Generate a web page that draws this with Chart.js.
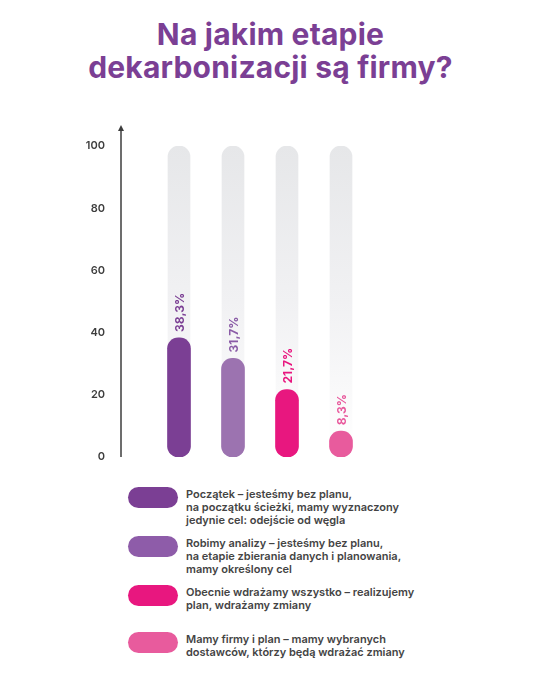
<!DOCTYPE html>
<html lang="pl">
<head>
<meta charset="UTF-8">
<title>Na jakim etapie dekarbonizacji są firmy?</title>
<script src="https://cdn.jsdelivr.net/npm/chart.js@4.4.1/dist/chart.umd.min.js"></script>
<style>
    html, body { margin: 0; padding: 0; background: #fff; }
    body { width: 541px; height: 691px; position: relative; overflow: hidden; font-family: Inter, "Noto Sans", sans-serif; }
    h1 {
        position: absolute; top: 18px; left: 0; width: 541px; margin: 0;
        text-align: center; font-size: 30px; line-height: 33px; font-weight: 700;
        color: #7B3F94; letter-spacing: 0.2px;
    }
    #chart { position: absolute; top: 100px; left: 0; }
    .legend-item { position: absolute; left: 128px; display: flex; align-items: flex-start; }
    .swatch { width: 50px; height: 21px; border-radius: 11px; margin-top: -1px; flex: none; }
    .legend-text { margin-left: 8px; font-size: 11px; line-height: 13px; font-weight: 600; color: #444; }
</style>
</head>
<body>
<h1>Na jakim etapie<br>dekarbonizacji są firmy?</h1>
<canvas id="chart" width="541" height="380" style="width:541px;height:380px"></canvas>
<div id="legend"></div>

<script>
    // Data
    const categories = [
        ['Początek – jesteśmy bez planu,', 'na początku ścieżki, mamy wyznaczony', 'jedynie cel: odejście od węgla'],
        ['Robimy analizy – jesteśmy bez planu,', 'na etapie zbierania danych i planowania,', 'mamy określony cel'],
        ['Obecnie wdrażamy wszystko – realizujemy', 'plan, wdrażamy zmiany'],
        ['Mamy firmy i plan – mamy wybranych', 'dostawców, którzy będą wdrażać zmiany']
    ];
    const values = [38.3, 31.7, 21.7, 8.3];
    const trackValues = [100, 100, 100, 100];
    const valueLabels = ['38,3%', '31,7%', '21,7%', '8,3%'];
    const yTicks = [0, 20, 40, 60, 80, 100];

    const barColors = ['#7B3F94', '#9C73B0', '#E8177F', '#E85B9D'];
    const labelColors = ['#7B3F94', '#8A5BA6', '#E8177F', '#E8589C'];
    const legendColors = ['#7B3F94', '#8E5CA9', '#E8177F', '#E85B9D'];
    const legendTops = [488, 537, 586, 633];

    // Legend (HTML)
    const legendEl = document.getElementById('legend');
    categories.forEach((lines, i) => {
        const item = document.createElement('div');
        item.className = 'legend-item';
        item.style.top = legendTops[i] + 'px';
        const sw = document.createElement('div');
        sw.className = 'swatch';
        sw.style.background = legendColors[i];
        const txt = document.createElement('div');
        txt.className = 'legend-text';
        txt.innerHTML = lines.join('<br>');
        item.appendChild(sw);
        item.appendChild(txt);
        legendEl.appendChild(item);
    });

    // grey track gradient, fades toward the bottom
    function trackGradient(context) {
        const area = context.chart.chartArea;
        if (!area) return '#eee';
        const g = context.chart.ctx.createLinearGradient(0, area.top, 0, area.bottom);
        g.addColorStop(0, '#E6E7E9');
        g.addColorStop(0.5, '#F1F1F3');
        g.addColorStop(1, '#FFFFFF');
        return g;
    }

    // arrow y axis + tick labels, drawn left of the bars
    const axisArrow = {
        id: 'axisArrow',
        afterDraw(chart) {
            const { ctx, chartArea } = chart;
            const y = chart.scales.y;
            const x = chartArea.left - 31;
            const yBottom = y.getPixelForValue(0);
            const yTop = chartArea.top - 21;
            ctx.save();
            ctx.strokeStyle = '#3d3d3d';
            ctx.fillStyle = '#3d3d3d';
            ctx.lineWidth = 1.5;
            ctx.beginPath();
            ctx.moveTo(x, yBottom);
            ctx.lineTo(x, yTop + 4);
            ctx.stroke();
            ctx.beginPath();
            ctx.moveTo(x, yTop);
            ctx.lineTo(x - 3, yTop + 6);
            ctx.lineTo(x + 3, yTop + 6);
            ctx.closePath();
            ctx.fill();

            ctx.font = '600 11px Inter, "Noto Sans", sans-serif';
            ctx.textAlign = 'right';
            ctx.textBaseline = 'middle';
            yTicks.forEach(v => {
                ctx.fillText(String(v), x - 16, y.getPixelForValue(v));
            });
            ctx.restore();
        }
    };

    // rotated value labels above the bars
    const valueLabelPlugin = {
        id: 'valueLabels',
        afterDatasetsDraw(chart) {
            const { ctx } = chart;
            const meta = chart.getDatasetMeta(1);
            ctx.save();
            ctx.font = '700 12px Inter, "Noto Sans", sans-serif';
            ctx.textAlign = 'left';
            ctx.textBaseline = 'middle';
            meta.data.forEach((bar, i) => {
                ctx.save();
                ctx.translate(bar.x + 1, bar.y - 6);
                ctx.rotate(-Math.PI / 2);
                ctx.fillStyle = labelColors[i];
                ctx.fillText(valueLabels[i], 0, 0);
                ctx.restore();
            });
            ctx.restore();
        }
    };

    new Chart(document.getElementById('chart'), {
        type: 'bar',
        data: {
            labels: categories.map((c, i) => 'k' + i),
            datasets: [
                {
                    data: trackValues,
                    backgroundColor: trackGradient,
                    borderRadius: 11,
                    borderSkipped: false,
                    barThickness: 22,
                    grouped: false,
                    order: 2
                },
                {
                    data: values,
                    backgroundColor: barColors,
                    borderRadius: 11,
                    borderSkipped: false,
                    barThickness: 23,
                    grouped: false,
                    order: 1
                }
            ]
        },
        options: {
            responsive: false,
            animation: false,
            layout: { padding: { top: 46, right: 173, bottom: 23, left: 0 } },
            plugins: { legend: { display: false }, tooltip: { enabled: false } },
            scales: {
                x: { display: false },
                y: {
                    min: 0,
                    max: 100,
                    afterFit: s => { s.width = 152; },
                    grid: { display: false, drawTicks: false },
                    border: { display: false },
                    ticks: { display: false }
                }
            }
        },
        plugins: [axisArrow, valueLabelPlugin]
    });
</script>
</body>
</html>
